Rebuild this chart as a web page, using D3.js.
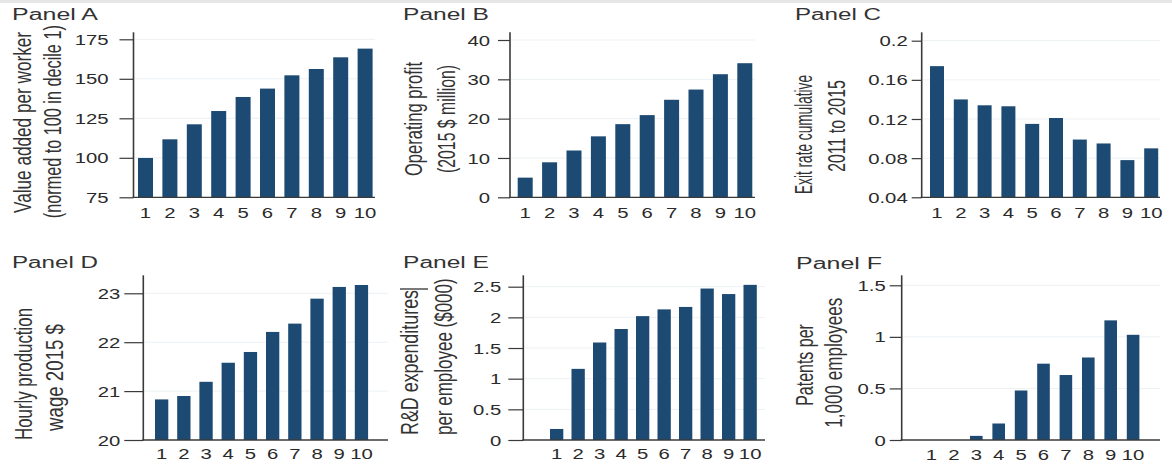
<!DOCTYPE html>
<html><head><meta charset="utf-8">
<script src="https://cdn.jsdelivr.net/npm/d3@7"></script>
<style>body{margin:0;background:#fff} svg{display:block}</style>
</head><body><svg id="c" width="1172" height="472"></svg>
<script>
// ---------- data ----------
const categories = ["1","2","3","4","5","6","7","8","9","10"];

const valuesA = [99.9, 111.7, 121.2, 129.6, 138.5, 143.8, 152.2, 156.2, 163.6, 169.1];
const valuesB = [5.0, 8.9, 11.9, 15.5, 18.6, 20.9, 24.8, 27.4, 31.3, 34.1];
const valuesC = [0.174, 0.140, 0.134, 0.133, 0.115, 0.121, 0.099, 0.095, 0.078, 0.090];
const valuesD = [20.83, 20.90, 21.19, 21.58, 21.80, 22.21, 22.38, 22.89, 23.13, 23.17];
const valuesE = [0.18, 1.16, 1.59, 1.81, 2.02, 2.13, 2.17, 2.47, 2.38, 2.53];
const valuesF = [0, 0, 0.04, 0.16, 0.48, 0.74, 0.63, 0.80, 1.16, 1.02];

const ticksA = [75, 100, 125, 150, 175];
const ticksB = [0, 10, 20, 30, 40];
const ticksC = [0.04, 0.08, 0.12, 0.16, 0.2];
const ticksD = [20, 21, 22, 23];
const ticksE = [0, 0.5, 1, 1.5, 2, 2.5];
const ticksF = [0, 0.5, 1, 1.5];

const tickLabelsA = ["75", "100", "125", "150", "175"];
const tickLabelsB = ["0", "10", "20", "30", "40"];
const tickLabelsC = ["0.04", "0.08", "0.12", "0.16", "0.2"];
const tickLabelsD = ["20", "21", "22", "23"];
const tickLabelsE = ["0", "0.5", "1", "1.5", "2", "2.5"];
const tickLabelsF = ["0", "0.5", "1", "1.5"];

const titles = ["Panel A", "Panel B", "Panel C", "Panel D", "Panel E", "Panel F"];
const yLabelA = ["Value added per worker", "(normed to 100 in decile 1)"];
const yLabelB = ["Operating profit", "(2015 $ million)"];
const yLabelC = ["Exit rate cumulative", "2011 to 2015"];
const yLabelD = ["Hourly production", "wage 2015 $"];
const yLabelE = ["R&D expenditures", "per employee ($000)"];
const yLabelF = ["Patents per", "1,000 employees"];

// ---------- layout (positions / sizes only) ----------
const layouts = [
  {ax:133.5, top:32.3, bottom:197.3, yTop:39.3, first:138, step:24.4, bw:15, xEnd:375, tickLen:14, gap:11, tx:12, ty:19.5, xl:218.5,
   yl:[{x:31, cy:122.5, len:181}, {x:61, cy:121.7, len:193}]},
  {ax:510, top:32.3, bottom:197.3, yTop:40, first:517.7, step:24.4, bw:15, xEnd:755, tickLen:12, gap:8, tx:403, ty:20, xl:218.5,
   yl:[{x:421.5, cy:119, len:114}, {x:455, cy:119, len:108}]},
  {ax:921.7, top:32.3, bottom:197.3, yTop:40.7, first:930, step:23.8, bw:14, xEnd:1160, tickLen:10, gap:4, tx:795, ty:20, xl:218.5,
   yl:[{x:811.7, cy:134.5, len:119}, {x:845, cy:126, len:91.7}]},
  {ax:143.3, top:275.3, bottom:440, yTop:293.3, first:155, step:22.2, bw:13.3, xEnd:388, tickLen:19, gap:4, tx:12, ty:268, xl:459,
   yl:[{x:31.7, cy:374, len:132}, {x:63, cy:377.5, len:107}]},
  {ax:523.3, top:275.3, bottom:440, yTop:286.7, first:550, step:21.5, bw:13.3, xEnd:765, tickLen:15, gap:7, tx:403, ty:268, xl:459,
   yl:[{x:418.3, cy:362.5, len:145}, {x:451.7, cy:356.7, len:156.7}]},
  {ax:901.7, top:275.3, bottom:440, yTop:285.3, first:925.2, step:22.4, bw:12.6, xEnd:1160, tickLen:12, gap:4, tx:796, ty:268.5, xl:460,
   yl:[{x:813.3, cy:365, len:81.7}, {x:841.7, cy:362.7, len:130}]}
];

const panels = [
  {values:valuesA, ticks:ticksA, labels:tickLabelsA, ylab:yLabelA},
  {values:valuesB, ticks:ticksB, labels:tickLabelsB, ylab:yLabelB},
  {values:valuesC, ticks:ticksC, labels:tickLabelsC, ylab:yLabelC},
  {values:valuesD, ticks:ticksD, labels:tickLabelsD, ylab:yLabelD},
  {values:valuesE, ticks:ticksE, labels:tickLabelsE, ylab:yLabelE},
  {values:valuesF, ticks:ticksF, labels:tickLabelsF, ylab:yLabelF}
].map((p, i) => Object.assign(p, {title: titles[i], L: layouts[i]}));

// ---------- style ----------
const BAR = "#1c4a73";
const AXIS = "#3a3a3a";
const TEXT = "#2a2a2a";
const GRID = "#edf1f4";
const FONT = "'Liberation Sans', Arial, Helvetica, sans-serif";
const NARROW = "'Liberation Sans Narrow', 'Liberation Sans', Arial, sans-serif";
const STRETCH = 1.45;
const YLAB_WIDEN = 1.22;

const svg = d3.select("#c");
svg.append("rect").attr("x",0).attr("y",0).attr("width",1172).attr("height",472).attr("fill","#fff");
svg.append("rect").attr("x",0).attr("y",0).attr("width",1172).attr("height",3).attr("fill","#e6e6e6");

panels.forEach(p => {
  const L = p.L;
  const g = svg.append("g");
  const d0 = p.ticks[0], d1 = p.ticks[p.ticks.length - 1];
  const y = d3.scaleLinear().domain([d0, d1]).range([L.bottom, L.yTop]);
  const pad = (L.step - L.bw) / L.step;
  const r0 = L.first - L.step * pad / 2;
  const x = d3.scaleBand().domain(categories).range([r0, r0 + L.step * categories.length])
    .paddingInner(pad).paddingOuter(pad / 2);

  // gridlines
  g.append("g").selectAll("line").data(p.ticks.slice(1)).join("line")
    .attr("x1", L.ax + 1).attr("x2", L.xEnd)
    .attr("y1", d => y(d)).attr("y2", d => y(d))
    .attr("stroke", GRID).attr("stroke-width", 1);

  // bars
  g.append("g").selectAll("rect").data(p.values).join("rect")
    .attr("x", (d, i) => x(categories[i]))
    .attr("width", x.bandwidth())
    .attr("y", d => y(Math.max(d, d0)))
    .attr("height", d => y(d0) - y(Math.max(d, d0)))
    .attr("fill", BAR);

  // y axis
  const ya = g.append("g").attr("transform", `translate(${L.ax},0)`)
    .call(d3.axisLeft(y).tickValues(p.ticks).tickFormat((d, i) => p.labels[i])
      .tickSize(L.tickLen).tickSizeOuter(0).tickPadding(L.gap));
  ya.select(".domain").remove();
  ya.selectAll(".tick line").attr("stroke", AXIS).attr("stroke-width", 1.2);
  ya.selectAll(".tick text")
    .attr("x", 0).attr("dy", "0.36em")
    .attr("transform", `translate(${-(L.tickLen + L.gap)},0) scale(${STRETCH},1)`)
    .attr("fill", TEXT).style("font-family", FONT).style("font-size", "14px");
  g.append("line").attr("x1", L.ax).attr("x2", L.ax).attr("y1", L.top).attr("y2", L.bottom + 0.5)
    .attr("stroke", AXIS).attr("stroke-width", 1.6);

  // x axis
  const xa = g.append("g").attr("transform", `translate(0,${L.bottom})`)
    .call(d3.axisBottom(x).tickSize(0).tickPadding(0));
  xa.select(".domain").remove();
  xa.selectAll(".tick text")
    .attr("y", L.xl - L.bottom).attr("dy", 0)
    .attr("transform", `scale(${STRETCH},1)`)
    .attr("fill", TEXT).style("font-family", FONT).style("font-size", "14px");
  g.append("line").attr("x1", L.ax - 1).attr("x2", L.xEnd).attr("y1", L.bottom).attr("y2", L.bottom)
    .attr("stroke", AXIS).attr("stroke-width", 1.3);

  // title
  g.append("text").attr("x", L.tx).attr("y", L.ty).text(p.title)
    .attr("textLength", 86).attr("lengthAdjust", "spacingAndGlyphs")
    .attr("fill", "#333").style("font-family", FONT).style("font-size", "16px");

  // y label (two lines, rotated)
  p.ylab.forEach((t, i) => {
    const s = L.yl[i];
    g.append("text")
      .attr("transform", `translate(${s.x},${s.cy}) scale(${YLAB_WIDEN},1) rotate(-90)`)
      .attr("text-anchor", "middle")
      .attr("textLength", s.len).attr("lengthAdjust", "spacingAndGlyphs")
      .attr("fill", "#333").style("font-family", NARROW).style("font-size", "20px")
      .text(t);
  });
});

// small dark stroke above the Panel E label (present in the reference)
svg.append("line").attr("x1", 400).attr("x2", 428).attr("y1", 289).attr("y2", 289)
  .attr("stroke", "#222").attr("stroke-width", 1.2);
</script>
</body></html>
